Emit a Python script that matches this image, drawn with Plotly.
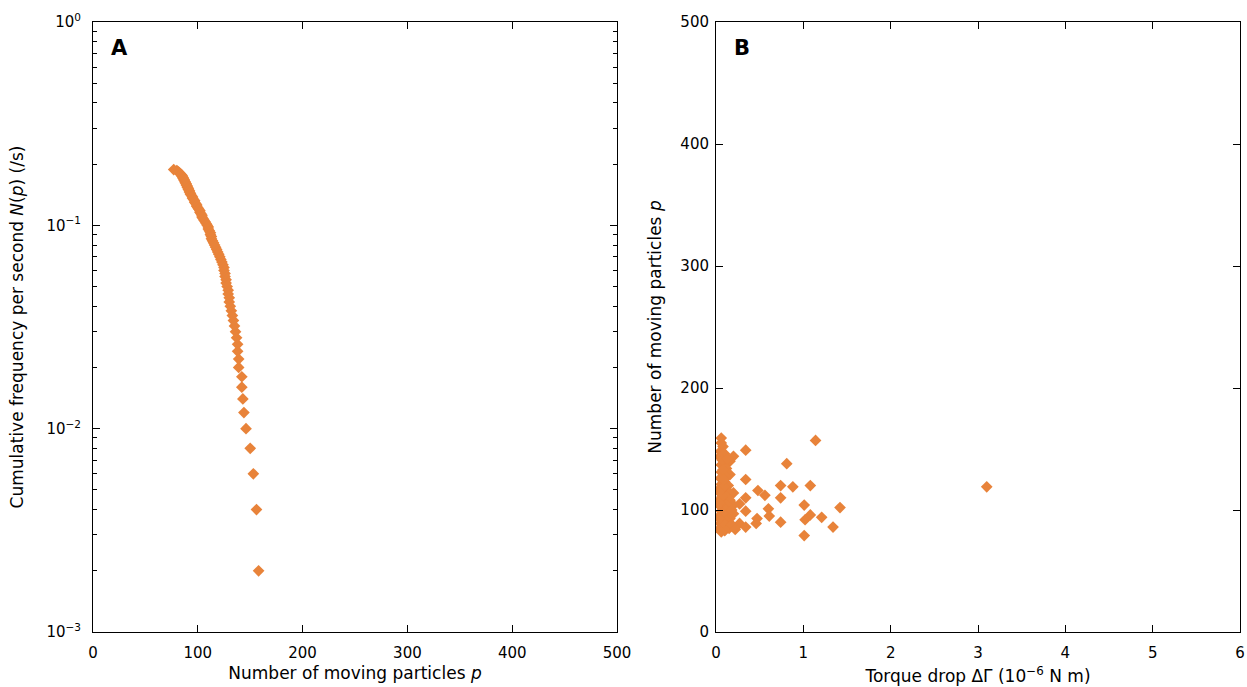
import plotly.graph_objects as go

ORANGE = "#E8833A"

# Panel A: cumulative frequency per second N(p) vs number of moving particles p
a_p = [158, 156, 153, 150, 146, 144, 143, 142, 142, 139,
       139, 138, 138, 137, 136, 135, 134, 133, 132, 131,
       130, 130, 129, 129, 128, 127, 127, 126, 126, 125,
       125, 124, 123, 122, 121, 120, 119, 118, 117, 116,
       115, 114, 113, 113, 112, 112, 111, 110, 110, 109,
       108, 107, 106, 105, 104, 104, 103, 102, 102, 101,
       100, 99, 99, 98, 97, 97, 96, 95, 95, 94,
       93, 93, 92, 92, 91, 91, 90, 90, 89, 89,
       88, 88, 87, 87, 86, 86, 85, 85, 84, 83,
       82, 81, 80, 77]
a_N = [0.002, 0.004, 0.006, 0.008, 0.010, 0.012, 0.014, 0.016, 0.018, 0.020,
       0.022, 0.024, 0.026, 0.028, 0.030, 0.032, 0.034, 0.036, 0.038, 0.040,
       0.042, 0.044, 0.046, 0.048, 0.050, 0.052, 0.054, 0.056, 0.058, 0.060,
       0.062, 0.064, 0.066, 0.068, 0.070, 0.072, 0.074, 0.076, 0.078, 0.080,
       0.082, 0.084, 0.086, 0.088, 0.090, 0.092, 0.094, 0.096, 0.098, 0.100,
       0.102, 0.104, 0.106, 0.108, 0.110, 0.112, 0.114, 0.116, 0.118, 0.120,
       0.122, 0.124, 0.126, 0.128, 0.130, 0.132, 0.134, 0.136, 0.138, 0.140,
       0.142, 0.144, 0.146, 0.148, 0.150, 0.152, 0.154, 0.156, 0.158, 0.160,
       0.162, 0.164, 0.166, 0.168, 0.170, 0.172, 0.174, 0.176, 0.178, 0.180,
       0.182, 0.184, 0.186, 0.188]

# Panel B: number of moving particles p vs torque drop (1e-6 N m)
b_torque = [3.10, 1.14, 0.81, 0.34, 0.20, 0.16, 0.34, 0.74, 0.88, 1.08,
            0.48, 0.56, 0.20, 0.34, 0.74, 0.20, 0.27, 0.34, 0.60, 0.61,
            0.47, 0.46, 1.01, 1.42, 0.74, 1.08, 1.02, 1.21, 1.34, 1.01,
            0.27, 0.34,
            0.06, 0.08, 0.05, 0.06, 0.10, 0.05, 0.14, 0.06, 0.10, 0.12,
            0.06, 0.16, 0.05, 0.10, 0.06, 0.14, 0.05, 0.10, 0.16, 0.06,
            0.12, 0.05, 0.16, 0.08, 0.12, 0.05, 0.10, 0.06, 0.14, 0.05,
            0.10, 0.16, 0.06, 0.12, 0.05, 0.10, 0.14, 0.06, 0.05, 0.10,
            0.06, 0.15, 0.20, 0.12, 0.08, 0.07, 0.09, 0.07, 0.11, 0.08,
            0.18, 0.18, 0.06, 0.13, 0.22, 0.07, 0.09, 0.04, 0.04, 0.04]
b_p = [119, 157, 138, 149, 144, 140, 125, 120, 119, 120,
       116, 112, 114, 110, 110, 104, 105, 99, 101, 95,
       93, 89, 104, 102, 90, 96, 92, 94, 86, 79,
       89, 86,
       159, 152, 148, 145, 146, 143, 140, 137, 138, 134,
       131, 129, 126, 123, 121, 120, 118, 116, 114, 113,
       111, 109, 108, 106, 104, 103, 101, 99, 98, 96,
       95, 93, 92, 91, 89, 88, 87, 86, 84, 83,
       82, 85, 97, 127, 133, 141, 119, 111, 100, 90,
       100, 88, 155, 142, 84, 97, 125, 115, 106, 93]

a_yticks = [1e-3, 1e-2, 1e-1, 1]
a_yticktext = ["10<sup>−3</sup>", "10<sup>−2</sup>", "10<sup>−1</sup>", "10<sup>0</sup>"]
a_yminor = [m * 10 ** e for e in (-3, -2, -1) for m in range(2, 10)]

fig = go.Figure()
fig.add_trace(go.Scatter(x=a_p, y=a_N, mode="markers", xaxis="x", yaxis="y",
                         marker=dict(symbol="diamond", size=9, color=ORANGE, line=dict(width=0)),
                         showlegend=False))
fig.add_trace(go.Scatter(x=b_torque, y=b_p, mode="markers", xaxis="x2", yaxis="y2",
                         marker=dict(symbol="diamond", size=9, color=ORANGE, line=dict(width=0)),
                         showlegend=False))

FAMILY = "DejaVu Sans, sans-serif"
axis_common = dict(showgrid=False, zeroline=False, showline=True, linecolor="black",
                   linewidth=1, mirror="ticks", ticks="inside", ticklen=7, tickwidth=1,
                   tickcolor="black", automargin=False,
                   tickfont=dict(family=FAMILY, size=15, color="black"))

W, H = 1247, 687
L, R, T, B = 93, 7, 22, 55
PW = W - L - R
dA = [0, 524 / PW]
dB = [623 / PW, 1]

fig.update_layout(
    width=W, height=H,
    margin=dict(l=L, r=R, t=T, b=B),
    paper_bgcolor="white", plot_bgcolor="white",
    font=dict(family=FAMILY, size=14.5, color="black"),
    xaxis=dict(domain=dA, range=[0, 500], tickvals=[0, 100, 200, 300, 400, 500],
               ticklabelstandoff=7,
               title=dict(text="Number of moving particles <i>p</i>", standoff=6),
               anchor="y", **axis_common),
    yaxis=dict(domain=[0, 1], type="log", range=[-3, 0], tickvals=a_yticks, ticktext=a_yticktext,
               ticklabelstandoff=8,
               title=dict(text="Cumulative frequency per second <i>N</i>(<i>p</i>) (/s)", standoff=18),
               minor=dict(tickvals=a_yminor, ticks="inside", ticklen=4, tickcolor="black"),
               anchor="x", **axis_common),
    xaxis2=dict(domain=dB, range=[0, 6], tickvals=[0, 1, 2, 3, 4, 5, 6],
                ticklabelstandoff=7,
                title=dict(text="Torque drop ΔΓ (10<sup>−6</sup> N m)", standoff=9),
                anchor="y2", **axis_common),
    yaxis2=dict(domain=[0, 1], range=[0, 500], tickvals=[0, 100, 200, 300, 400, 500],
                ticklabelstandoff=3,
                title=dict(text="Number of moving particles <i>p</i>", standoff=14),
                anchor="x2", **axis_common),
    annotations=[
        dict(text="<b>A</b>", x=0.03, y=0.98, xref="x domain", yref="y domain", showarrow=False,
             xanchor="left", yanchor="top", font=dict(family=FAMILY, size=21, color="black")),
        dict(text="<b>B</b>", x=0.03, y=0.98, xref="x2 domain", yref="y2 domain", showarrow=False,
             xanchor="left", yanchor="top", font=dict(family=FAMILY, size=21, color="black")),
    ],
)

# remove the default 8px body margin so the figure fills the 1247x687 window exactly
fig.write_html("out.html", config={"displayModeBar": False},
               post_script="document.body.style.margin='0';document.body.style.overflow='hidden';")
